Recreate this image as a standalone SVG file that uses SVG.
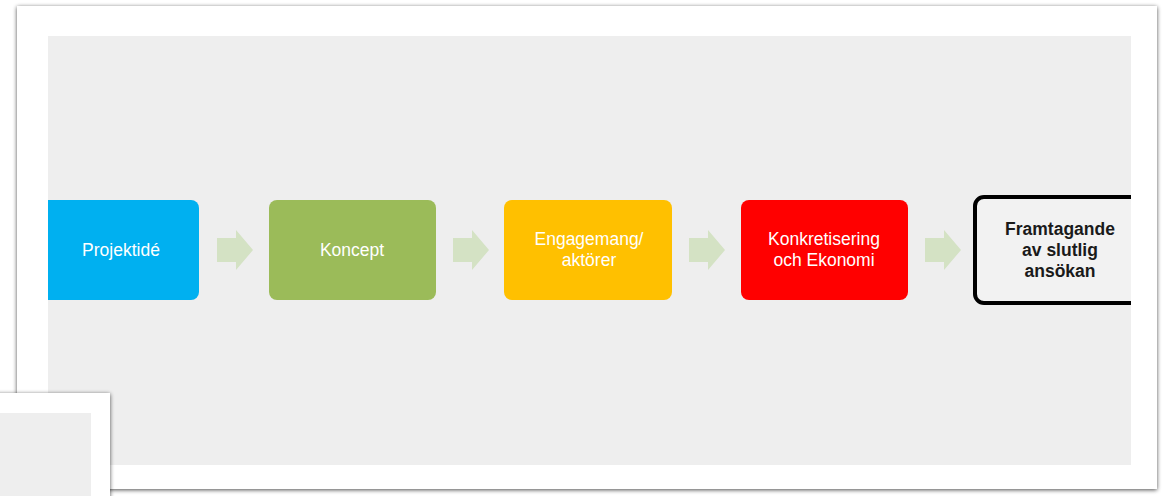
<svg xmlns="http://www.w3.org/2000/svg" width="1162" height="496" viewBox="0 0 1162 496">
<defs>
<filter id="sh" x="-5%" y="-5%" width="110%" height="110%">
<feGaussianBlur in="SourceAlpha" stdDeviation="2"/>
<feOffset dx="0" dy="1"/>
<feComponentTransfer><feFuncA type="linear" slope="0.7"/></feComponentTransfer>
<feMerge><feMergeNode/><feMergeNode in="SourceGraphic"/></feMerge>
</filter>
<clipPath id="clip"><rect x="48" y="36" width="1083" height="429"/></clipPath>
<path id="arr" d="M0,8 H19 V0 L36,20 L19,40 V32 H0 Z"/>
</defs>
<style>
.lbl{font-family:"Liberation Sans",Arial,sans-serif;font-size:17.5px;fill:#ffffff;text-anchor:middle}
.blk{font-family:"Liberation Sans",Arial,sans-serif;font-size:17.5px;font-weight:bold;fill:#1a1a1a;text-anchor:middle}
.ar{fill:#d4e2c4}
</style>
<rect width="1162" height="496" fill="#ffffff"/>
<rect x="17" y="6" width="1140" height="483" fill="#ffffff" filter="url(#sh)"/>
<rect x="48" y="36" width="1083" height="429" fill="#eeeeee"/>
<g clip-path="url(#clip)">
<g id="connectors">
<use href="#arr" class="ar" x="217" y="230"/>
<use href="#arr" class="ar" x="453" y="230"/>
<use href="#arr" class="ar" x="689" y="230"/>
<use href="#arr" class="ar" x="925" y="230"/>
</g>
<g id="n1"><rect x="38" y="200" width="161" height="100" rx="8" fill="#00b0f0"/><text class="lbl" x="121" y="256">Projektidé</text></g>
<g id="n2"><rect x="269" y="200" width="167" height="100" rx="8" fill="#9bbb59"/><text class="lbl" x="352" y="256">Koncept</text></g>
<g id="n3"><rect x="504" y="200" width="168" height="100" rx="8" fill="#ffc000"/><text class="lbl" x="589" y="245">Engagemang/</text><text class="lbl" x="589" y="266">aktörer</text></g>
<g id="n4"><rect x="741" y="200" width="167" height="100" rx="8" fill="#ff0000"/><text class="lbl" x="824" y="245">Konkretisering</text><text class="lbl" x="824" y="266">och Ekonomi</text></g>
<g id="n5"><rect x="975" y="197" width="180" height="106" rx="9" fill="#f2f2f2" stroke="#000000" stroke-width="4"/><text class="blk" x="1060" y="235">Framtagande</text><text class="blk" x="1060" y="256">av slutlig</text><text class="blk" x="1060" y="277">ansökan</text></g>
</g>
<rect x="-20" y="393" width="130" height="120" fill="#ffffff" filter="url(#sh)"/>
<rect x="0" y="413" width="91" height="90" fill="#eeeeee"/>
</svg>
